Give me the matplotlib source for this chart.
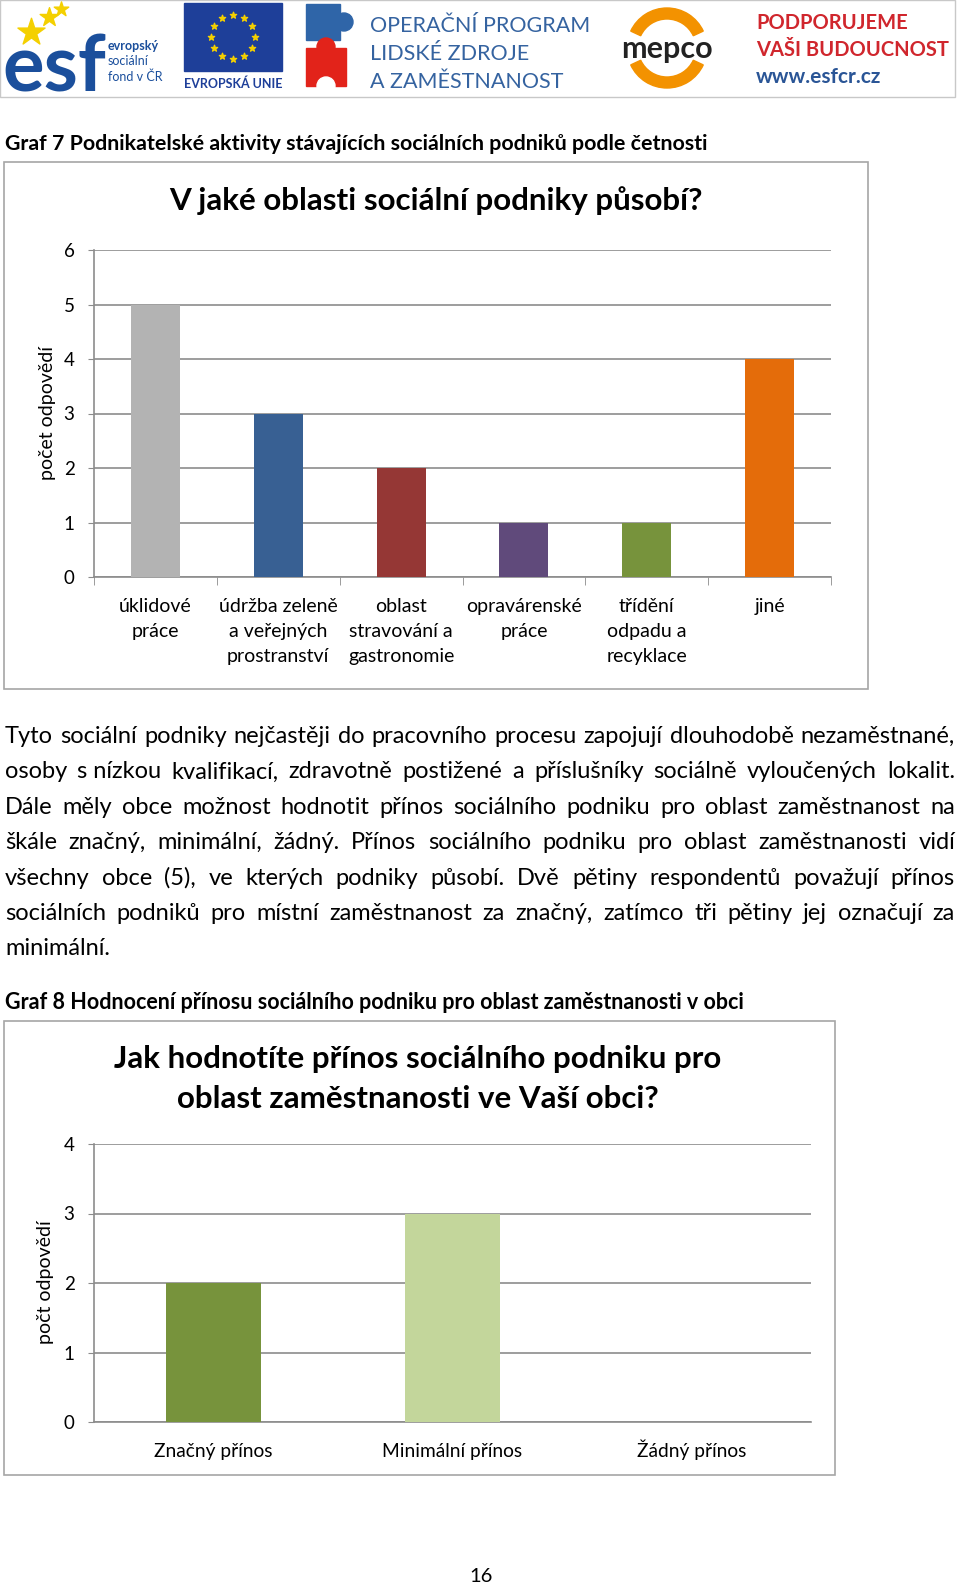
import matplotlib
matplotlib.use('Agg')
import matplotlib.pyplot as plt
from matplotlib.patches import Rectangle, Circle, Wedge
import numpy as np

plt.rcParams['font.family'] = ['Lato', 'DejaVu Sans']

# --- data ---
g7_categories = ['úklidové\npráce', 'údržba zeleně\na veřejných\nprostranství',
                 'oblast\nstravování a\ngastronomie', 'opravárenské\npráce',
                 'třídění\nodpadu a\nrecyklace', 'jiné']
g7_values = [5, 3, 2, 1, 1, 4]
g7_colors = ['#b3b3b3', '#386093', '#953735', '#604a7b', '#77933c', '#e46c0a']
g7_yticks = [0, 1, 2, 3, 4, 5, 6]

g8_categories = ['Značný přínos', 'Minimální přínos', 'Žádný přínos']
g8_values = [2, 3, 0]
g8_colors = ['#77933c', '#c3d69b', '#4f81bd']
g8_yticks = [0, 1, 2, 3, 4]

paragraph = [
    'Tyto sociální podniky nejčastěji do pracovního procesu zapojují dlouhodobě nezaměstnané,',
    'osoby s\u00a0nízkou kvalifikací, zdravotně postižené a příslušníky sociálně vyloučených lokalit.',
    'Dále měly obce možnost hodnotit přínos sociálního podniku pro oblast zaměstnanost na',
    'škále značný, minimální, žádný. Přínos sociálního podniku pro oblast zaměstnanosti vidí',
    'všechny obce (5), ve kterých podniky působí. Dvě pětiny respondentů považují přínos',
    'sociálních podniků pro místní zaměstnanost za značný, zatímco tři pětiny jej označují za',
    'minimální.',
]

W, H = 960, 1585
fig = plt.figure(figsize=(W / 100, H / 100), dpi=100)

# page layer in pixel coordinates
page = fig.add_axes([0, 0, 1, 1])
page.set_xlim(0, W)
page.set_ylim(H, 0)
page.axis('off')


def add_ax(x0, y0, x1, y1):
    return fig.add_axes([x0 / W, 1 - y1 / H, (x1 - x0) / W, (y1 - y0) / H])


# --- header logos (rough) ---
page.add_patch(Rectangle((0, 0), 955, 97, fill=False, ec='#c8c8c8', lw=1))
page.text(2, 92, 'esf', fontsize=56, fontweight='bold', color='#1b4f9c', va='baseline')
for (sx, sy, ss) in [(31, 32, 420), (49, 17, 200), (61, 9, 120)]:
    page.scatter(sx, sy, s=ss, marker='*', color='#f4d000', zorder=5)
page.text(108, 50, 'evropský', fontsize=9, fontweight='bold', color='#1b4f9c', va='baseline')
page.text(108, 65, 'sociální', fontsize=9, color='#1b4f9c', va='baseline')
page.text(108, 81, 'fond v ČR', fontsize=9, color='#1b4f9c', va='baseline')
page.add_patch(Rectangle((184, 3), 98, 68, color='#1e3f99'))
ang = np.linspace(0, 2 * np.pi, 13)[:-1]
page.scatter(233 + 22 * np.cos(ang), 37 + 22 * np.sin(ang), s=22, marker='*', color='#f4d000', zorder=5)
page.text(233, 88, 'EVROPSKÁ UNIE', fontsize=9, fontweight='bold', color='#1e3f99', ha='center', va='baseline')
page.add_patch(Rectangle((306, 4), 34, 36, color='#2f65a8'))
page.add_patch(Circle((344, 22), 9, color='#2f65a8'))
page.add_patch(Rectangle((306, 48), 40, 38, color='#e2231a'))
page.add_patch(Circle((326, 47), 9, color='#e2231a'))
page.add_patch(Circle((326, 86), 9, color='white'))
for i, s in enumerate(['OPERAČNÍ PROGRAM', 'LIDSKÉ ZDROJE', 'A ZAMĚSTNANOST']):
    page.text(370, 32 + 28 * i, s, fontsize=15.5, color='#3563a0', va='baseline')
page.add_patch(Wedge((667, 48), 40, 25, 155, width=11, color='#f39200'))
page.add_patch(Wedge((667, 48), 40, 205, 335, width=11, color='#f39200'))
page.text(667, 58, 'mepco', fontsize=22, fontweight='bold', color='#222222', ha='center', va='baseline')
page.text(756, 29, 'PODPORUJEME', fontsize=14.5, fontweight='bold', color='#d0262d', va='baseline')
page.text(756, 56, 'VAŠI BUDOUCNOST', fontsize=14.5, fontweight='bold', color='#d0262d', va='baseline')
page.text(756, 83, 'www.esfcr.cz', fontsize=15, fontweight='bold', color='#2a5596', va='baseline')

# --- captions ---
page.text(5, 150, 'Graf 7 Podnikatelské aktivity stávajících sociálních podniků podle četnosti',
          fontsize=15.4, fontweight='bold', va='baseline')
page.text(5, 1009, 'Graf 8 Hodnocení přínosu sociálního podniku pro oblast zaměstnanosti v obci',
          fontsize=15.5, fontweight='bold', va='baseline')

# --- justified paragraph ---
renderer = fig.canvas.get_renderer()
left, right = 5, 955
probe = page.text(0, 0, paragraph[0], fontsize=14)
para_size = 14 * (right - left - 4) / probe.get_window_extent(renderer).width
probe.remove()
for i, line in enumerate(paragraph):
    yb = 743 + 35.4 * i
    words = line.split(' ')
    texts = [page.text(0, yb, w, fontsize=para_size, va='baseline') for w in words]
    widths = [t.get_window_extent(renderer).width for t in texts]
    if i == len(paragraph) - 1 or len(words) == 1:
        gap = 5
    else:
        gap = (right - left - sum(widths)) / (len(words) - 1)
    x = left
    for t, w in zip(texts, widths):
        t.set_x(x)
        x += w + gap

page.text(481, 1582, '16', fontsize=14.5, ha='center', va='baseline')

grid_c = '#8c8c8c'


def style(ax):
    ax.set_facecolor('none')
    ax.yaxis.grid(True, color=grid_c, lw=1.2)
    ax.set_axisbelow(True)
    for s in ['top', 'right']:
        ax.spines[s].set_visible(False)
    for s in ['left', 'bottom']:
        ax.spines[s].set_color(grid_c)
        ax.spines[s].set_linewidth(1.2)
    ax.tick_params(axis='y', length=4, color=grid_c, pad=10, labelsize=13.5)


# --- chart 7 ---
page.add_patch(Rectangle((4, 162), 864, 527, fill=False, ec='#a6a6a6', lw=1.2))
page.text(436, 210, 'V jaké oblasti sociální podniky působí?', fontsize=22.6, fontweight='bold',
          ha='center', va='baseline')
ax1 = add_ax(94, 250, 831, 577)
x1 = np.arange(len(g7_values))
ax1.bar(x1, g7_values, width=0.4, color=g7_colors, zorder=3)
ax1.set_xlim(-0.5, len(g7_values) - 0.5)
ax1.set_ylim(0, 6)
ax1.set_yticks(g7_yticks)
style(ax1)
ax1.set_xticks(x1)
ax1.set_xticklabels(g7_categories, fontsize=14, linespacing=1.56)
ax1.set_xticks(np.arange(-0.5, len(g7_values)), minor=True)
ax1.tick_params(axis='x', which='major', length=0, pad=15)
ax1.tick_params(axis='x', which='minor', length=6, color=grid_c)
page.text(48, 413, 'počet odpovědí', fontsize=14, rotation=90, ha='center', va='center')

# --- chart 8 ---
page.add_patch(Rectangle((4, 1021), 831, 454, fill=False, ec='#a6a6a6', lw=1.2))
page.text(418, 1068, 'Jak hodnotíte přínos sociálního podniku pro', fontsize=22.5, fontweight='bold',
          ha='center', va='baseline')
page.text(418, 1108, 'oblast zaměstnanosti ve Vaší obci?', fontsize=22.5, fontweight='bold',
          ha='center', va='baseline')
ax2 = add_ax(94, 1144, 811, 1422)
x2 = np.arange(len(g8_values))
ax2.bar(x2, g8_values, width=0.4, color=g8_colors, zorder=3)
ax2.set_xlim(-0.5, len(g8_values) - 0.5)
ax2.set_ylim(0, 4)
ax2.set_yticks(g8_yticks)
style(ax2)
ax2.set_xticks(x2)
ax2.set_xticklabels(g8_categories, fontsize=13.8, va='baseline')
ax2.tick_params(axis='x', length=0, pad=25)
page.text(46, 1282, 'počt odpovědí', fontsize=14, rotation=90, ha='center', va='center')

fig.savefig('out.png', dpi=100)
